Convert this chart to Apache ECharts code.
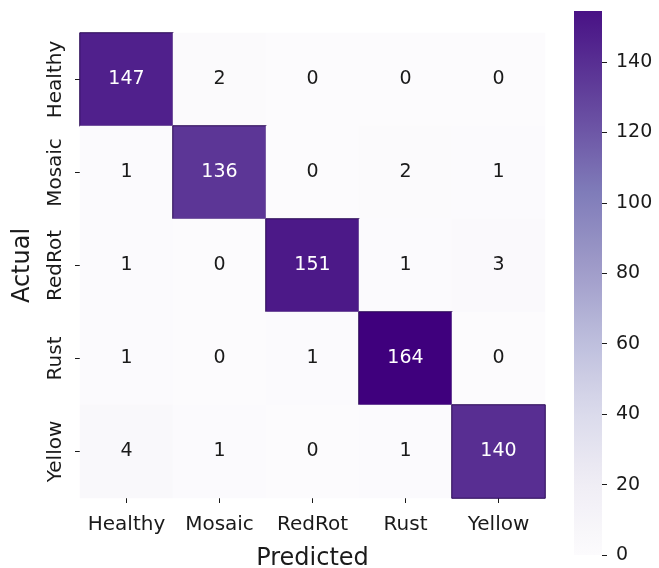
<!DOCTYPE html>
<html>
<head>
<meta charset="utf-8">
<script src="https://cdn.jsdelivr.net/npm/echarts@6/dist/echarts.min.js"></script>
<style>
  html, body { margin: 0; padding: 0; background: #ffffff; }
  #chart { width: 659px; height: 568px; }
</style>
</head>
<body>
<div id="chart"></div>
<script>
// Confusion matrix: rows are actual classes, columns are predicted classes
const predictedLabels = ['Healthy', 'Mosaic', 'RedRot', 'Rust', 'Yellow'];
const actualLabels = ['Healthy', 'Mosaic', 'RedRot', 'Rust', 'Yellow'];
const rowHealthy = [147, 2, 0, 0, 0];
const rowMosaic = [1, 136, 0, 2, 1];
const rowRedRot = [1, 0, 151, 1, 3];
const rowRust = [1, 0, 1, 164, 0];
const rowYellow = [4, 1, 0, 1, 140];
const colorbarTicks = [0, 20, 40, 60, 80, 100, 120, 140];
const colorbarTop = 154.5;

const counts = [rowHealthy, rowMosaic, rowRedRot, rowRust, rowYellow];
const vmax = Math.max(...counts.flat());

// matplotlib "Purples" colour ramp
const purples = ['#fcfbfd', '#efedf5', '#dadaeb', '#bcbddc', '#9e9ac8',
                 '#807dba', '#6a51a3', '#54278f', '#3f007d'];

function hexToRgb(h) {
  return [parseInt(h.slice(1, 3), 16), parseInt(h.slice(3, 5), 16), parseInt(h.slice(5, 7), 16)];
}
function purplesAt(t) {
  t = Math.max(0, Math.min(1, t));
  const pos = t * (purples.length - 1);
  const i = Math.min(Math.floor(pos), purples.length - 2);
  const f = pos - i;
  const a = hexToRgb(purples[i]), b = hexToRgb(purples[i + 1]);
  const c = a.map((v, k) => Math.round(v + (b[k] - v) * f));
  return 'rgb(' + c.join(',') + ')';
}

// gradient for the colour bar: top of bar = colorbarTop, bottom = 0
const barStops = [];
const nStops = 24;
for (let i = 0; i <= nStops; i++) {
  const v = colorbarTop * (1 - i / nStops);
  barStops.push({ offset: i / nStops, color: purplesAt(v / vmax) });
}

const font = 'DejaVu Sans';
const heatData = [];
counts.forEach((row, r) => {
  row.forEach((v, c) => {
    const dark = v / vmax > 0.5;
    heatData.push({
      value: [c, r, v],
      label: { color: dark ? '#ffffff' : '#1a1a1a' },
      itemStyle: dark ? { borderColor: '#2a0a55', borderWidth: 1 } : {}
    });
  });
});

const chart = echarts.init(document.getElementById('chart'), null, { renderer: 'canvas' });
chart.setOption({
  animation: false,
  backgroundColor: '#ffffff',
  textStyle: { fontFamily: font },
  grid: [
    { left: 80, top: 33, width: 465, height: 465, containLabel: false, outerBoundsMode: 'none' },
    { left: 574, top: 11, width: 28, height: 544, containLabel: false, outerBoundsMode: 'none' }
  ],
  xAxis: [
    {
      gridIndex: 0,
      type: 'category',
      data: predictedLabels,
      position: 'bottom',
      name: 'Predicted',
      nameLocation: 'middle',
      nameGap: 49,
      nameTextStyle: { fontSize: 24, color: '#1a1a1a', fontFamily: font },
      axisLine: { show: false },
      axisTick: { show: true, alignWithLabel: true, interval: 0, length: 5, lineStyle: { color: '#1a1a1a' } },
      axisLabel: { fontSize: 20, color: '#1a1a1a', margin: 17, interval: 0, fontFamily: font },
      splitLine: { show: false }
    },
    {
      gridIndex: 1,
      type: 'category',
      data: [''],
      show: false
    }
  ],
  yAxis: [
    {
      gridIndex: 0,
      type: 'category',
      data: actualLabels,
      inverse: true,
      name: 'Actual',
      nameLocation: 'middle',
      nameGap: 45,
      nameTextStyle: { fontSize: 24, color: '#1a1a1a', fontFamily: font },
      axisLine: { show: false },
      axisTick: { show: true, alignWithLabel: true, interval: 0, length: 5, lineStyle: { color: '#1a1a1a' } },
      axisLabel: { fontSize: 20, color: '#1a1a1a', rotate: 90, margin: 14, interval: 0, fontFamily: font },
      splitLine: { show: false }
    },
    {
      gridIndex: 1,
      type: 'value',
      position: 'right',
      min: 0,
      max: colorbarTop,
      axisLine: { show: false },
      splitLine: { show: false },
      axisTick: { show: true, length: 5, customValues: colorbarTicks, lineStyle: { color: '#1a1a1a' } },
      axisLabel: { fontSize: 19, color: '#1a1a1a', margin: 14, customValues: colorbarTicks, fontFamily: font }
    }
  ],
  visualMap: {
    show: false,
    type: 'continuous',
    seriesIndex: 0,
    dimension: 2,
    min: 0,
    max: vmax,
    inRange: { color: purples }
  },
  series: [
    {
      type: 'heatmap',
      xAxisIndex: 0,
      yAxisIndex: 0,
      data: heatData,
      label: { show: true, fontSize: 19, fontFamily: font },
      emphasis: { disabled: true }
    },
    {
      type: 'bar',
      xAxisIndex: 1,
      yAxisIndex: 1,
      data: [colorbarTop],
      barWidth: '100%',
      silent: true,
      itemStyle: {
        color: { type: 'linear', x: 0, y: 0, x2: 0, y2: 1, colorStops: barStops }
      }
    }
  ]
});
</script>
</body>
</html>
